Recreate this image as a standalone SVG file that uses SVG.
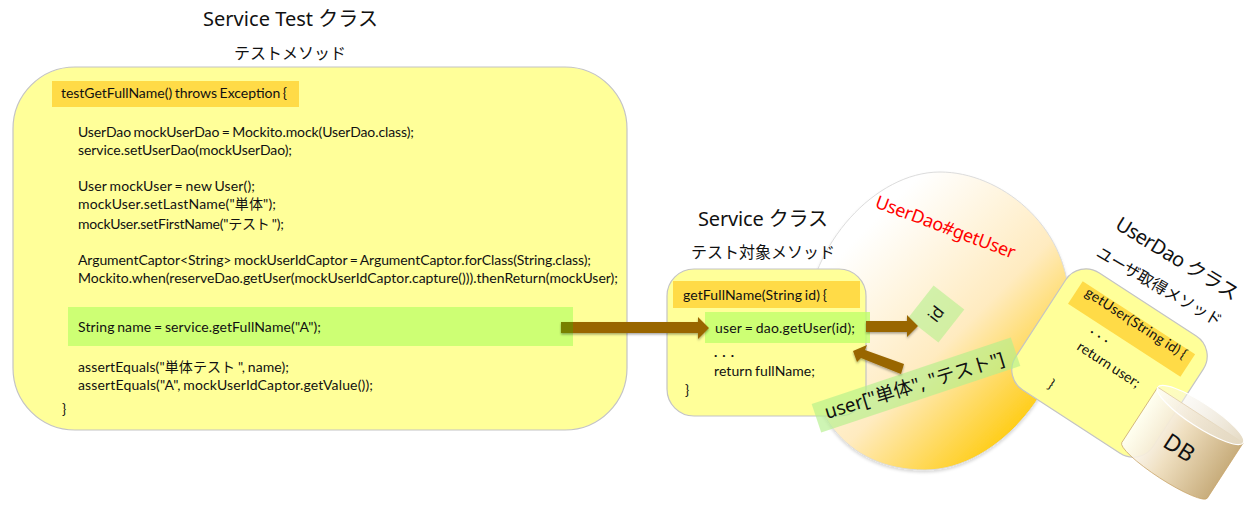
<svg xmlns="http://www.w3.org/2000/svg" width="1256" height="515" viewBox="0 0 1256 515">
<style>
text{font-family:"Lato","Noto Sans CJK JP",sans-serif;fill:#111}
.code{font-size:14px;word-spacing:-1px}
.title{font-family:"Noto Sans","Noto Sans CJK JP",sans-serif;font-size:20px}
.sub{font-family:"Noto Sans","Noto Sans CJK JP",sans-serif;font-size:16px}
.panel{fill:#ffff99;stroke:#c4c4c4;stroke-width:1.2}
.head{fill:#ffdb47}
.green{fill:#c0ff6a;fill-opacity:.8}
.arrow{fill:#996600;filter:url(#sh)}
</style>
<defs>
<filter id="sh" x="-20%" y="-40%" width="140%" height="200%"><feDropShadow dx="0" dy="1.5" stdDeviation="1.2" flood-color="#000" flood-opacity=".35"/></filter>
<filter id="sh2" x="-10%" y="-10%" width="120%" height="120%"><feDropShadow dx="0" dy="2" stdDeviation="1.5" flood-color="#000" flood-opacity=".15"/></filter>
<linearGradient id="ball" gradientUnits="userSpaceOnUse" x1="870" y1="225" x2="1048" y2="403"><stop offset="0" stop-color="#fff"/><stop offset="0.55" stop-color="#ffebc0"/><stop offset="1" stop-color="#ffcc11"/></linearGradient>
<linearGradient id="cyl" x1="0" y1="0" x2="1" y2="0"><stop offset="0" stop-color="#fff" stop-opacity=".85"/><stop offset=".45" stop-color="#efdfc0"/><stop offset="1" stop-color="#c8ad7c"/></linearGradient>
<linearGradient id="cylTop" x1="0" y1="0" x2="1" y2="0"><stop offset="0" stop-color="#fff" stop-opacity=".3"/><stop offset="1" stop-color="#e4d9c2"/></linearGradient>
</defs>
<g id="ball-node"><path d="M940 172C1000 172 1067 225 1069 300C1071 380 1000 470 925 470C845 470 800 410 806 320C810 245 875 172 940 172Z" fill="url(#ball)" stroke="#dcdcdc" filter="url(#sh2)"/>
<text transform="translate(874 207) rotate(20.5)" font-size="18" style="fill:#ff0000;font-family:'Noto Sans',sans-serif" textLength="148">UserDao#getUser</text></g>
<g id="test-class">
<text class="title" x="203" y="26" textLength="175">Service Test クラス</text>
<text class="sub" x="234" y="59" textLength="112">テストメソッド</text>
<rect class="panel" x="13" y="67" width="614" height="363" rx="62"/>
<rect class="head" x="52" y="81" width="247" height="26"/>
<rect class="green" x="68" y="307" width="505" height="39"/>
<text class="code" x="61" y="98" textLength="226">testGetFullName() throws Exception {</text>
<text class="code" x="78" y="137" textLength="336">UserDao mockUserDao = Mockito.mock(UserDao.class);</text>
<text class="code" x="78" y="155" textLength="214">service.setUserDao(mockUserDao);</text>
<text class="code" x="78" y="191" textLength="177">User mockUser = new User();</text>
<text class="code" x="78" y="209" textLength="198">mockUser.setLastName("単体");</text>
<text class="code" x="78" y="229" textLength="206">mockUser.setFirstName("テスト ");</text>
<text class="code" x="78" y="265" textLength="513">ArgumentCaptor&lt;String&gt; mockUserIdCaptor = ArgumentCaptor.forClass(String.class);</text>
<text class="code" x="78" y="283" textLength="540">Mockito.when(reserveDao.getUser(mockUserIdCaptor.capture())).thenReturn(mockUser);</text>
<text class="code" x="78" y="332" textLength="243">String name = service.getFullName("A");</text>
<text class="code" x="78" y="372" textLength="211">assertEquals("単体テスト ", name);</text>
<text class="code" x="78" y="390" textLength="295">assertEquals("A", mockUserIdCaptor.getValue());</text>
<text class="code" x="62" y="414">}</text>
</g>
<g id="service-class">
<text class="title" x="698" y="226" textLength="130">Service クラス</text>
<text class="sub" x="691" y="258" textLength="144">テスト対象メソッド</text>
<rect class="panel" x="667" y="269" width="199" height="147" rx="27"/>
<rect class="head" x="673" y="281" width="187" height="27"/>
<rect class="green" x="705" y="312" width="165" height="31"/>
<text class="code" x="683" y="300" textLength="144">getFullName(String id) {</text>
<text class="code" x="715" y="333" textLength="140">user = dao.getUser(id);</text>
<text class="code" x="714" y="357" textLength="20" font-weight="700">. . .</text>
<text class="code" x="714" y="376" textLength="101">return fullName;</text>
<text class="code" x="685" y="395">}</text>
</g>
<g id="userdao-class">
<text class="title" transform="translate(1114 228) rotate(31.5)" textLength="140">UserDao クラス</text>
<text class="sub" transform="translate(1095 256) rotate(30)" textLength="142">ユーザ取得メソッド</text>
<g transform="translate(1109.5 363) rotate(33)">
<rect class="panel" x="-82" y="-70" width="164" height="140" rx="24"/>
<rect class="head" x="-67" y="-54" width="134" height="27"/>
</g>
<text class="code" transform="translate(1084 295) rotate(33)" textLength="118">getUser(String id) {</text>
<text class="code" transform="translate(1090 332) rotate(33)" textLength="20" font-weight="700">. . .</text>
<text class="code" transform="translate(1076 349) rotate(33)" textLength="72">return user;</text>
<text class="code" transform="translate(1047 387) rotate(33)">}</text>
</g>
<g id="db">
<g transform="translate(1200.5 415) rotate(33)">
<path d="M-51 0V66A51 9 0 0 0 51 66V0Z" fill="url(#cyl)" stroke="#c8a468" stroke-width=".7"/>
<ellipse cx="0" cy="0" rx="51" ry="12" fill="url(#cylTop)" stroke="#fff" stroke-width="1.2"/>
<text x="0" y="47" text-anchor="middle" font-size="23" style="font-family:'Noto Sans',sans-serif">DB</text>
</g>
</g>
<g id="id-label">
<g transform="translate(936 314) rotate(-52)">
<rect x="-21" y="-19.5" width="42" height="39" fill="#b4f08c" fill-opacity=".6"/>
<text x="0" y="6" text-anchor="middle" font-size="17" style="font-family:'Noto Sans',sans-serif">id</text>
</g>
</g>
<g id="user-label">
<g transform="translate(916 385) rotate(-18.5)">
<rect x="-105" y="-15" width="210" height="30" fill="#b4f08c" fill-opacity=".65"/>
</g>
<text transform="translate(827 419) rotate(-17)" font-size="19" style="font-family:'Noto Sans','Noto Sans CJK JP',sans-serif" textLength="187">user["単体", "テスト"]</text>
</g>
<g id="connectors">
<path class="arrow" d="M561 322H698V317L709 328L698 339V333H561Z"/>
<rect x="561" y="322" width="12" height="11" fill="#778000"/>
<path class="arrow" d="M866 321H907V315L918 326L907 337V332H866Z"/>
<path class="arrow" d="M904 364L865 350L867 345L853 351L857 362L861 358L901 374Z"/>
</g>
</svg>
